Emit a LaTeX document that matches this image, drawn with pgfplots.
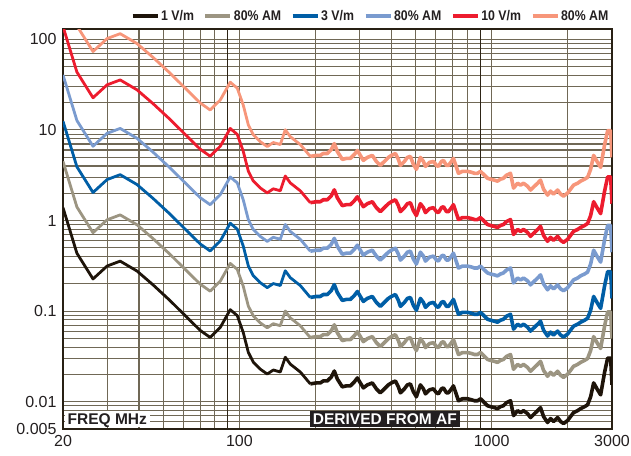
\documentclass[border=0pt]{standalone}
\usepackage{fontspec}
\setmainfont{Liberation Sans}
\newfontfamily\condb{Liberation Sans}[FakeStretch=0.88]
\usepackage{pgfplots}
\usepackage{pgfplotstable}
\pgfplotsset{compat=1.18}
\definecolor{c1}{RGB}{30,20,10}
\definecolor{c2}{RGB}{156,149,130}
\definecolor{c3}{RGB}{0,94,166}
\definecolor{c4}{RGB}{122,155,207}
\definecolor{c5}{RGB}{237,28,46}
\definecolor{c6}{RGB}{247,150,122}
\definecolor{gridc}{RGB}{112,104,86}
\definecolor{gridd}{RGB}{45,36,22}
\definecolor{axc}{RGB}{40,32,20}
\definecolor{boxc}{RGB}{35,31,32}
% low-frequency (smooth) part
\pgfplotstableread{
f a b c d e h
20 1.387 4.494 12.48 40.45 138.7 449.4
22.7 0.4358 1.412 3.922 12.71 43.58 141.2
26.3 0.2265 0.7339 2.039 6.605 22.65 73.39
29.9 0.3144 1.019 2.830 9.168 31.44 101.9
33.7 0.3563 1.154 3.207 10.39 35.63 115.4
39.3 0.2771 0.8978 2.494 8.080 27.71 89.78
45.5 0.1949 0.6315 1.754 5.683 19.49 63.15
53.2 0.1302 0.4218 1.172 3.797 13.02 42.18
62.1 0.0849 0.2751 0.7641 2.476 8.49 27.51
70.0 0.0612 0.1983 0.5508 1.785 6.12 19.83
76.6 0.0513 0.1662 0.4617 1.496 5.13 16.62
84.0 0.0660 0.2138 0.5940 1.925 6.60 21.38
92.0 0.1038 0.3363 0.9342 3.027 10.38 33.63
98.1 0.0893 0.2893 0.8037 2.604 8.93 28.93
103.6 0.0582 0.1886 0.5238 1.697 5.82 18.86
108.5 0.0352 0.1140 0.3168 1.026 3.52 11.40
113.5 0.0274 0.0888 0.2466 0.799 2.74 8.88
121.0 0.0229 0.0742 0.2061 0.668 2.29 7.42
129.0 0.0202 0.0655 0.1818 0.589 2.02 6.55
136.3 0.0224 0.0726 0.2016 0.653 2.24 7.26
145.3 0.0213 0.0690 0.1917 0.621 2.13 6.90
152.1 0.0310 0.1004 0.2790 0.904 3.10 10.04
159.2 0.0260 0.0842 0.2340 0.758 2.60 8.42
174.4 0.0213 0.0690 0.1917 0.621 2.13 6.90
191.1 0.01573 0.0510 0.1416 0.459 1.573 5.10
}\dataA
% high-frequency (noisy) part
\pgfplotstableread{
f a b c d e h
191.1 0.01573 0.0510 0.1416 0.459 1.573 5.10
201.8 0.01613 0.0523 0.1452 0.470 1.613 5.23
209.3 0.01613 0.0523 0.1452 0.470 1.613 5.23
215.2 0.01696 0.0550 0.1526 0.495 1.696 5.50
223.2 0.01696 0.0550 0.1526 0.495 1.696 5.50
231.5 0.01876 0.0608 0.1688 0.547 1.876 6.08
237.9 0.02182 0.0707 0.1964 0.636 2.182 7.07
244.5 0.01784 0.0578 0.1606 0.520 1.784 5.78
255.9 0.01459 0.0473 0.1313 0.425 1.459 4.73
265.5 0.01496 0.0485 0.1346 0.436 1.496 4.85
275.4 0.01496 0.0485 0.1346 0.436 1.496 4.85
285.6 0.01654 0.0536 0.1489 0.482 1.654 5.36
293.6 0.01830 0.0593 0.1647 0.534 1.830 5.93
301.7 0.01613 0.0523 0.1452 0.470 1.613 5.23
310.1 0.01422 0.0461 0.1280 0.415 1.422 4.61
321.6 0.01534 0.0497 0.1381 0.447 1.534 4.97
336.6 0.01613 0.0523 0.1452 0.470 1.613 5.23
349.2 0.01387 0.0449 0.1248 0.405 1.387 4.49
362.2 0.01254 0.0406 0.1129 0.366 1.254 4.06
375.7 0.01387 0.0449 0.1248 0.405 1.387 4.49
389.7 0.01534 0.0497 0.1381 0.447 1.534 4.97
400.5 0.01613 0.0523 0.1452 0.470 1.613 5.23
415.5 0.01696 0.0550 0.1526 0.495 1.696 5.50
427.0 0.01459 0.0473 0.1313 0.425 1.459 4.73
434.8 0.01254 0.0406 0.1129 0.366 1.254 4.06
451.0 0.01387 0.0449 0.1248 0.405 1.387 4.49
463.5 0.01534 0.0497 0.1381 0.447 1.534 4.97
476.4 0.01573 0.0510 0.1416 0.459 1.573 5.10
489.6 0.01286 0.0417 0.1157 0.375 1.286 4.17
503.2 0.01134 0.0367 0.1021 0.331 1.134 3.67
521.9 0.01534 0.0497 0.1381 0.447 1.534 4.97
536.5 0.01387 0.0449 0.1248 0.405 1.387 4.49
546.5 0.01223 0.0396 0.1101 0.357 1.223 3.96
566.8 0.01352 0.0438 0.1217 0.394 1.352 4.38
587.9 0.01387 0.0449 0.1248 0.405 1.387 4.49
604.3 0.01254 0.0406 0.1129 0.366 1.254 4.06
615.3 0.01223 0.0396 0.1101 0.357 1.223 3.96
632.5 0.01387 0.0449 0.1248 0.405 1.387 4.49
644.2 0.01422 0.0461 0.1280 0.415 1.422 4.61
662.1 0.01254 0.0406 0.1129 0.366 1.254 4.06
674.2 0.01254 0.0406 0.1129 0.366 1.254 4.06
692.9 0.01387 0.0449 0.1248 0.405 1.387 4.49
705.8 0.01496 0.0485 0.1346 0.436 1.496 4.85
725.4 0.01193 0.0387 0.1074 0.348 1.193 3.87
738.8 0.01025 0.0332 0.0923 0.299 1.025 3.32
766.2 0.01078 0.0349 0.0970 0.314 1.078 3.49
802.2 0.01078 0.0349 0.0970 0.314 1.078 3.49
831.9 0.01052 0.0341 0.0947 0.307 1.052 3.41
855.1 0.01025 0.0332 0.0923 0.299 1.025 3.32
878.9 0.01025 0.0332 0.0923 0.299 1.025 3.32
903.4 0.01078 0.0349 0.0970 0.314 1.078 3.49
936.9 0.00975 0.0316 0.0878 0.284 0.975 3.16
962.9 0.00904 0.0293 0.0814 0.264 0.904 2.93
989.7 0.00882 0.0286 0.0794 0.257 0.882 2.86
1026 0.00860 0.0279 0.0774 0.251 0.860 2.79
1055 0.00839 0.0272 0.0755 0.245 0.839 2.72
1084 0.00882 0.0286 0.0794 0.257 0.882 2.86
1114 0.00904 0.0293 0.0814 0.264 0.904 2.93
1145 0.00975 0.0316 0.0878 0.284 0.975 3.16
1188 0.01025 0.0332 0.0923 0.299 1.025 3.32
1221 0.00703 0.0228 0.0633 0.205 0.703 2.28
1267 0.00797 0.0258 0.0717 0.232 0.797 2.58
1302 0.00758 0.0246 0.0682 0.221 0.758 2.46
1338 0.00797 0.0258 0.0717 0.232 0.797 2.58
1388 0.00739 0.0239 0.0665 0.216 0.739 2.39
1426 0.00669 0.0217 0.0602 0.195 0.669 2.17
1466 0.00721 0.0234 0.0649 0.210 0.721 2.34
1521 0.00797 0.0258 0.0717 0.232 0.797 2.58
1563 0.00860 0.0279 0.0774 0.251 0.860 2.79
1606 0.00686 0.0222 0.0617 0.200 0.686 2.22
1666 0.00590 0.0191 0.0531 0.172 0.590 1.91
1712 0.00652 0.0211 0.0587 0.190 0.652 2.11
1760 0.00605 0.0196 0.0545 0.176 0.605 1.96
1826 0.00669 0.0217 0.0602 0.195 0.669 2.17
1876 0.00605 0.0196 0.0545 0.176 0.605 1.96
1928 0.00575 0.0186 0.0518 0.168 0.575 1.86
2000 0.00620 0.0201 0.0558 0.181 0.620 2.01
2055 0.00686 0.0222 0.0617 0.200 0.686 2.22
2112 0.00758 0.0246 0.0682 0.221 0.758 2.46
2191 0.00797 0.0258 0.0717 0.232 0.797 2.58
2252 0.00839 0.0272 0.0755 0.245 0.839 2.72
2336 0.00882 0.0286 0.0794 0.257 0.882 2.86
2401 0.00927 0.0300 0.0834 0.270 0.927 3.00
2468 0.01134 0.0367 0.1021 0.331 1.134 3.67
2537 0.01613 0.0523 0.1452 0.470 1.613 5.23
2630 0.01352 0.0438 0.1217 0.394 1.352 4.38
2704 0.01193 0.0387 0.1074 0.348 1.193 3.87
2805 0.02130 0.0690 0.1917 0.621 2.130 6.90
2883 0.03030 0.0982 0.2727 0.884 3.030 9.82
2963 0.03030 0.0982 0.2727 0.884 3.030 9.82
3000 0.01534 0.0497 0.1381 0.447 1.534 4.97
}\dataB
\begin{document}
\begin{tikzpicture}
\path[use as bounding box] (-63pt,-26pt) rectangle (568pt,429pt);
\begin{axis}[
  at={(0,0)}, anchor=south west,
  scale only axis, width=549pt, height=400pt,
  xmode=log, ymode=log,
  xmin=20, xmax=3000, ymin=0.005, ymax=130,
  xtick={20,100,1000,3000}, xticklabels={20,100,1000,3000},
  minor xtick={30,40,50,60,70,80,200,300,400,500,600,700,800,2000},
  extra x ticks={90,900}, extra x tick labels={},
  extra x tick style={grid=major, major grid style={color=gridd, line width=1.1pt}},
  ytick={0.005,0.01,0.1,1,10,100}, yticklabels={0.005,0.01,0.1,1,10,100},
  minor ytick={0.006,0.007,0.008,0.009,0.02,0.03,0.04,0.05,0.06,0.07,0.08,0.09,0.2,0.3,0.4,0.5,0.6,0.7,0.8,0.9,2,3,4,5,6,7,8,9,20,30,40,50,60,70,80,90},
  grid=both,
  major tick length=0pt, minor tick length=0pt,
  major grid style={color=gridc, line width=1.1pt},
  minor grid style={color=gridc, line width=1.1pt},
  axis line style={line width=2.8pt, color=axc},
  tick label style={font=\fontsize{16}{18}\selectfont, text=boxc},
  xticklabel style={yshift=-3pt},
  yticklabel style={xshift=-3pt},
  legend columns=6,
  legend style={at={(1,1)}, anchor=east, xshift=-2pt, yshift=13pt, draw=none, fill=none,
    inner sep=0pt, font=\condb\bfseries\fontsize{14}{15}\selectfont,
    nodes={inner xsep=1.5pt, inner ysep=1pt, text=boxc},
    /tikz/every even column/.append style={column sep=8pt},
    /tikz/column 4/.style={column sep=16pt},
    /tikz/column 8/.style={column sep=16pt}},
  legend image code/.code={\draw[#1, line width=4pt] (0pt,0pt) -- (25pt,0pt);},
  every axis plot/.append style={line width=2.8pt, line join=round},
]
\addplot[c1] table[x=f, y=a] {\dataA};
\addlegendentry{1 V/m}
\addplot[c2] table[x=f, y=b] {\dataA};
\addlegendentry{80\% AM}
\addplot[c3] table[x=f, y=c] {\dataA};
\addlegendentry{3 V/m}
\addplot[c4] table[x=f, y=d] {\dataA};
\addlegendentry{80\% AM}
\addplot[c5] table[x=f, y=e] {\dataA};
\addlegendentry{10 V/m}
\addplot[c6] table[x=f, y=h] {\dataA};
\addlegendentry{80\% AM}
\addplot[c1, line width=3.6pt, forget plot] table[x=f, y=a] {\dataB};
\addplot[c2, line width=3.6pt, forget plot] table[x=f, y=b] {\dataB};
\addplot[c3, line width=3.6pt, forget plot] table[x=f, y=c] {\dataB};
\addplot[c4, line width=3.6pt, forget plot] table[x=f, y=d] {\dataB};
\addplot[c5, line width=3.6pt, forget plot] table[x=f, y=e] {\dataB};
\addplot[c6, line width=3.6pt, forget plot] table[x=f, y=h] {\dataB};
\node[anchor=south west, fill=white, inner xsep=3pt, inner ysep=2.5pt, text height=11.5pt, text depth=0pt,
  font=\bfseries\fontsize{15.5}{16}\selectfont, text=boxc] at ([xshift=1.5pt,yshift=1.4pt]rel axis cs:0,0) {FREQ MHz};
\node[anchor=south east, fill=boxc, inner xsep=3pt, inner ysep=2.5pt, text height=11.5pt, text depth=0pt,
  font=\bfseries\fontsize{15.5}{16}\selectfont, text=white] at ([yshift=1.4pt]rel axis cs:0.723,0) {DERIVED FROM AF};
\end{axis}
\end{tikzpicture}
\end{document}
